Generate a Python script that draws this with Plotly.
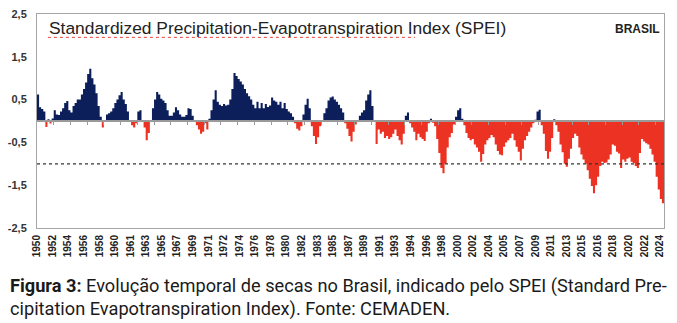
import numpy as np
import plotly.graph_objects as go

# Quarterly SPEI for Brazil (Q1..Q4 of each year), one list per decade
spei_1950s = [
    0.62, 0.32, 0.28, 0.22,      # 1950
    -0.14, 0.04, -0.06, 0.06,    # 1951
    0.25, 0.15, 0.14, 0.22,      # 1952
    0.30, 0.42, 0.47, 0.25,      # 1953
    0.20, 0.35, 0.42, 0.50,      # 1954
    0.50, 0.62, 0.75, 0.90,      # 1955
    1.10, 1.22, 1.00, 0.85,      # 1956
    0.65, 0.35, 0.10, -0.15,     # 1957
    0.02, 0.15, 0.18, 0.22,      # 1958
    0.30, 0.42, 0.50, 0.60,      # 1959
]
spei_1960s = [
    0.68, 0.50, 0.40, 0.22,      # 1960
    0.02, -0.10, -0.15, -0.05,   # 1961
    0.22, 0.25, 0.02, -0.15,     # 1962
    -0.45, -0.28, -0.02, 0.30,   # 1963
    0.50, 0.68, 0.62, 0.52,      # 1964
    0.48, 0.42, 0.25, 0.12,      # 1965
    0.12, 0.20, 0.32, 0.25,      # 1966
    0.15, 0.10, 0.10, 0.14,      # 1967
    0.30, 0.28, 0.12, 0.02,      # 1968
    -0.10, -0.20, -0.30, -0.25,  # 1969
]
spei_1970s = [
    -0.05, -0.20, 0.05, 0.25,    # 1970
    0.50, 0.72, 0.45, 0.38,      # 1971
    0.35, 0.40, 0.36, 0.38,      # 1972
    0.50, 0.75, 1.12, 1.05,      # 1973
    0.98, 0.92, 0.85, 0.75,      # 1974
    0.65, 0.58, 0.50, 0.38,      # 1975
    0.30, 0.45, 0.30, 0.42,      # 1976
    0.30, 0.40, 0.33, 0.36,      # 1977
    0.55, 0.48, 0.45, 0.38,      # 1978
    0.45, 0.30, 0.42, 0.28,      # 1979
]
spei_1980s = [
    0.22, 0.18, 0.10, -0.05,     # 1980
    -0.18, -0.22, -0.12, 0.15,   # 1981
    0.38, 0.52, 0.30, -0.12,     # 1982
    -0.35, -0.54, -0.38, -0.12,  # 1983
    0.02, 0.18, 0.30, 0.48,      # 1984
    0.55, 0.57, 0.50, 0.45,      # 1985
    0.38, 0.30, 0.20, -0.05,     # 1986
    -0.18, -0.35, -0.48, -0.25,  # 1987
    -0.08, 0.02, 0.12, 0.20,     # 1988
    0.25, 0.48, 0.62, 0.72,      # 1989
]
spei_1990s = [
    0.35, -0.02, -0.54, -0.20,   # 1990
    -0.30, -0.25, -0.40, -0.35,  # 1991
    -0.42, -0.38, -0.30, -0.20,  # 1992
    -0.35, -0.45, -0.55, -0.30,  # 1993
    0.12, 0.20, -0.05, -0.15,    # 1994
    -0.25, -0.45, -0.30, -0.38,  # 1995
    -0.42, -0.47, -0.25, -0.05,  # 1996
    0.05, -0.04, -0.12, -0.42,   # 1997
    -0.75, -1.10, -1.22, -1.00,  # 1998
    -0.62, -0.38, -0.28, -0.08,  # 1999
]
spei_2000s = [
    0.10, 0.25, 0.30, 0.05,      # 2000
    -0.10, -0.28, -0.40, -0.45,  # 2001
    -0.42, -0.55, -0.62, -0.72,  # 2002
    -0.95, -0.77, -0.55, -0.45,  # 2003
    -0.40, -0.33, -0.38, -0.55,  # 2004
    -0.70, -0.78, -0.80, -0.60,  # 2005
    -0.50, -0.45, -0.40, -0.30,  # 2006
    -0.45, -0.60, -0.72, -0.92,  # 2007
    -0.65, -0.45, -0.35, -0.25,  # 2008
    -0.15, -0.05, 0.03, 0.22,    # 2009
]
spei_2010s = [
    0.26, -0.10, -0.30, -0.70,   # 2010
    -0.88, -0.72, -0.40, 0.04,   # 2011
    -0.10, -0.25, -0.55, -0.73,  # 2012
    -1.00, -1.07, -0.88, -0.65,  # 2013
    -0.40, -0.30, -0.35, -0.62,  # 2014
    -0.78, -0.90, -1.00, -1.15,  # 2015
    -1.35, -1.52, -1.69, -1.50,  # 2016
    -1.30, -1.05, -0.95, -0.98,  # 2017
    -0.97, -0.90, -0.78, -0.55,  # 2018
    -0.58, -0.72, -0.76, -1.10,  # 2019
]
spei_2020s = [
    -0.90, -0.95, -0.88, -0.85,  # 2020
    -0.95, -0.98, -1.05, -1.10,  # 2021
    -0.75, -0.42, -0.48, -0.52,  # 2022
    -0.55, -0.65, -0.78, -0.95,  # 2023
    -1.30, -1.60, -1.82, -1.92,  # 2024
]

x_tick_labels = [
    "1950", "1952", "1954", "1956", "1958", "1960", "1961", "1963", "1965",
    "1967", "1969", "1971", "1972", "1974", "1976", "1978", "1980", "1982",
    "1983", "1985", "1987", "1989", "1991", "1993", "1994", "1996", "1998",
    "2000", "2002", "2004", "2005", "2007", "2009", "2011", "2013", "2015",
    "2016", "2018", "2020", "2022", "2024",
]
y_tick_values = [2.5, 1.5, 0.5, -0.5, -1.5, -2.5]
y_tick_labels = ["2,5", "1,5", "0,5", "-0,5", "-1,5", "-2,5"]

DROUGHT_LEVEL = -1.0
START_YEAR = 1950
STEP = 0.25  # one quarter

NAVY = "#0c1f5b"
RED = "#ec3323"
FRAME = "#a6a6a6"

spei = (spei_1950s + spei_1960s + spei_1970s + spei_1980s
        + spei_1990s + spei_2000s + spei_2010s + spei_2020s)
n = len(spei)
x = [START_YEAR + i * STEP for i in range(n + 1)]
v = spei + [spei[-1]]
wet = [max(val, 0.0) for val in v]
dry = [min(val, 0.0) for val in v]
x_end = START_YEAR + n * STEP

fig = go.Figure()
fig.add_trace(go.Scatter(
    x=x, y=wet, mode="lines", line=dict(shape="hv", width=0, color=NAVY),
    fill="tozeroy", fillcolor=NAVY, hoverinfo="skip", showlegend=False))
fig.add_trace(go.Scatter(
    x=x, y=dry, mode="lines", line=dict(shape="hv", width=0, color=RED),
    fill="tozeroy", fillcolor=RED, hoverinfo="skip", showlegend=False,
    xaxis="x2"))

# plot-area pixel helpers (plot box is 632 x 220 px)
L, R, T, B = 32, 13, 8, 95
W, H = 677, 323
PW, PH = W - L - R, H - T - B


def px(xp):
    return (xp - L) / PW


def py(yp):
    return (H - B - yp) / PH


label_pos = np.linspace(START_YEAR, x_end - 0.5, len(x_tick_labels))

fig.update_layout(
    width=W, height=H,
    margin=dict(l=L, r=R, t=T, b=B),
    paper_bgcolor="white", plot_bgcolor="white",
    showlegend=False,
    xaxis=dict(
        range=[START_YEAR, x_end], tickvals=label_pos, ticktext=x_tick_labels,
        tickangle=-90, ticks="", showgrid=False, zeroline=False,
        showline=True, linecolor=FRAME, linewidth=1, mirror=True,
        ticklabelstandoff=2,
        tickfont=dict(family="Liberation Sans", size=10, color="#222222",
                      weight="bold"),
    ),
    xaxis2=dict(
        overlaying="x", anchor="free", position=0.5, side="bottom",
        range=[START_YEAR, x_end], tickvals=list(range(1952, 2025, 2)),
        ticks="outside", ticklen=3, tickcolor="#9a9a9a", tickwidth=1,
        showticklabels=False, showgrid=False, zeroline=False,
        showline=True, linecolor="#9a9a9a", linewidth=1.5,
    ),
    yaxis=dict(
        range=[-2.5, 2.5], tickvals=y_tick_values, ticktext=y_tick_labels,
        ticks="", showgrid=False, zeroline=False, ticklabelstandoff=7,
        showline=True, linecolor=FRAME, linewidth=1, mirror=True,
        tickfont=dict(family="Liberation Sans", size=11, color="#333333",
                      weight="bold"),
    ),
)

# drought threshold
fig.add_shape(type="line", xref="paper", x0=0, x1=1, yref="y",
              y0=DROUGHT_LEVEL, y1=DROUGHT_LEVEL,
              line=dict(color="#333333", width=1.2, dash="3px,3px"))

fig.add_annotation(
    text="Standardized Precipitation-Evapotranspiration Index (SPEI)",
    xref="paper", yref="paper", x=px(42), y=py(22.5),
    xanchor="left", yanchor="middle", showarrow=False,
    font=dict(family="Liberation Sans", size=17.4, color="#222222"))
fig.add_shape(type="line", xref="paper", yref="paper",
              x0=px(43), x1=px(413), y0=py(32), y1=py(32),
              line=dict(color="#e8403a", width=1, dash="dot"))
fig.add_annotation(
    text="<b>BRASIL</b>", xref="paper", yref="paper", x=px(662), y=py(23.5),
    xanchor="right", yanchor="middle", showarrow=False,
    font=dict(family="Liberation Sans", size=12, color="#222222"))

caption_font = dict(family="Roboto", size=18.2, color="#1a1a1a")
fig.add_annotation(
    text="<b>Figura 3:</b> Evolução temporal de secas no Brasil, indicado pelo "
         "SPEI (Standard Pre-",
    xref="paper", yref="paper", x=px(3), y=py(288),
    xanchor="left", yanchor="middle", showarrow=False, font=caption_font)
fig.add_annotation(
    text="cipitation Evapotranspiration Index). Fonte: CEMADEN.",
    xref="paper", yref="paper", x=px(3), y=py(311),
    xanchor="left", yanchor="middle", showarrow=False, font=caption_font)

fig.write_html("out.html")
